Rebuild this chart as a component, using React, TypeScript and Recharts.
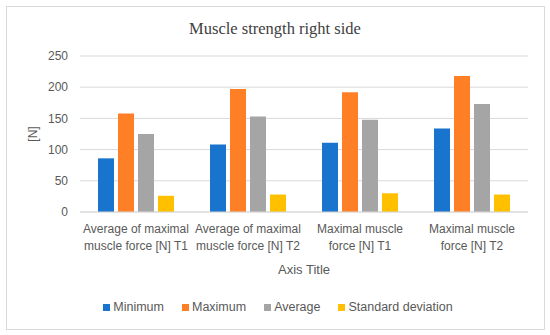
import React from "react"
import { BarChart, Bar, XAxis, YAxis, CartesianGrid, Legend } from "recharts"

const categories = [
  "Average of maximal\nmuscle force [N] T1",
  "Average of maximal\nmuscle force [N] T2",
  "Maximal muscle\nforce [N] T1",
  "Maximal muscle\nforce [N] T2",
]
const minimum = [86, 108, 111, 134]
const maximum = [158, 197, 192, 218]
const average = [125, 153, 148, 173]
const stdDev = [26, 28, 30, 28]
const yTicks = [0, 50, 100, 150, 200, 250]

const SERIES = [
  { key: "min", name: "Minimum", color: "#1874CD" },
  { key: "max", name: "Maximum", color: "#FF7F27" },
  { key: "avg", name: "Average", color: "#A5A5A5" },
  { key: "sd", name: "Standard deviation", color: "#FFC000" },
]

const data = categories.map((label, i) => ({
  label,
  min: minimum[i],
  max: maximum[i],
  avg: average[i],
  sd: stdDev[i],
}))

const FONT = "'Liberation Sans', Arial, sans-serif"
const TEXT = "#595959"

// two-line category labels, split on \n
function CategoryTick({ x, y, payload }: any) {
  const lines = String(payload.value).split("\n")
  return (
    <text x={x} y={y} textAnchor="middle" fill={TEXT} fontSize={12} fontFamily={FONT}>
      {lines.map((line, i) => (
        <tspan key={i} x={x} dy={i === 0 ? 21 : 17}>
          {line}
        </tspan>
      ))}
    </text>
  )
}

function LegendContent() {
  return (
    <div style={{ display: "flex", justifyContent: "center", alignItems: "center", gap: 18, height: 16, fontFamily: FONT, fontSize: 12.5, color: TEXT }}>
      {SERIES.map((s) => (
        <div key={s.key} style={{ display: "flex", alignItems: "center" }}>
          <span style={{ width: 7, height: 7, background: s.color, marginRight: 3, display: "inline-block" }} />
          <span>{s.name}</span>
        </div>
      ))}
    </div>
  )
}

export default function App() {
  return (
    <div style={{ position: "absolute", left: 0, top: 0, width: 550, height: 335, background: "#fff" }}>
      <div
        style={{
          position: "absolute",
          left: 6,
          top: 6,
          width: 539,
          height: 324,
          border: "1px solid #d9d9d9",
          boxSizing: "border-box",
        }}
      />
      <div
        style={{
          position: "absolute",
          left: 0,
          top: 19,
          width: 550,
          textAlign: "center",
          fontFamily: "'Liberation Serif', 'Times New Roman', serif",
          fontSize: 16.5,
          lineHeight: "20px",
          color: "#404040",
        }}
      >
        Muscle strength right side
      </div>
      <BarChart
        width={550}
        height={335}
        data={data}
        margin={{ top: 56, right: 22, bottom: 61, left: 20 }}
        barCategoryGap={18}
        barGap={4}
        style={{ position: "absolute", left: 0, top: 0 }}
      >
        <CartesianGrid vertical={false} stroke="#d9d9d9" />
        <XAxis
          dataKey="label"
          interval={0}
          height={62}
          tickLine={false}
          tickSize={0}
          tickMargin={0}
          axisLine={{ stroke: "#d9d9d9" }}
          tick={<CategoryTick />}
          label={{ value: "Axis Title", position: "insideBottom", offset: 0, fill: TEXT, fontSize: 13, fontFamily: FONT }}
        />
        <YAxis
          width={60}
          domain={[0, 250]}
          ticks={yTicks}
          axisLine={false}
          tickLine={false}
          tickSize={0}
          tickMargin={12}
          tick={{ fill: TEXT, fontSize: 12, fontFamily: FONT }}
          label={{ value: "[N]", angle: -90, position: "center", dx: -17, fill: TEXT, fontSize: 12, fontFamily: FONT }}
        />
        <Legend
          verticalAlign="middle"
          align="center"
          content={<LegendContent />}
          wrapperStyle={{ top: 299, left: 9, width: 538 }}
        />
        {SERIES.map((s) => (
          <Bar key={s.key} dataKey={s.key} name={s.name} fill={s.color} isAnimationActive={false} />
        ))}
      </BarChart>
    </div>
  )
}
